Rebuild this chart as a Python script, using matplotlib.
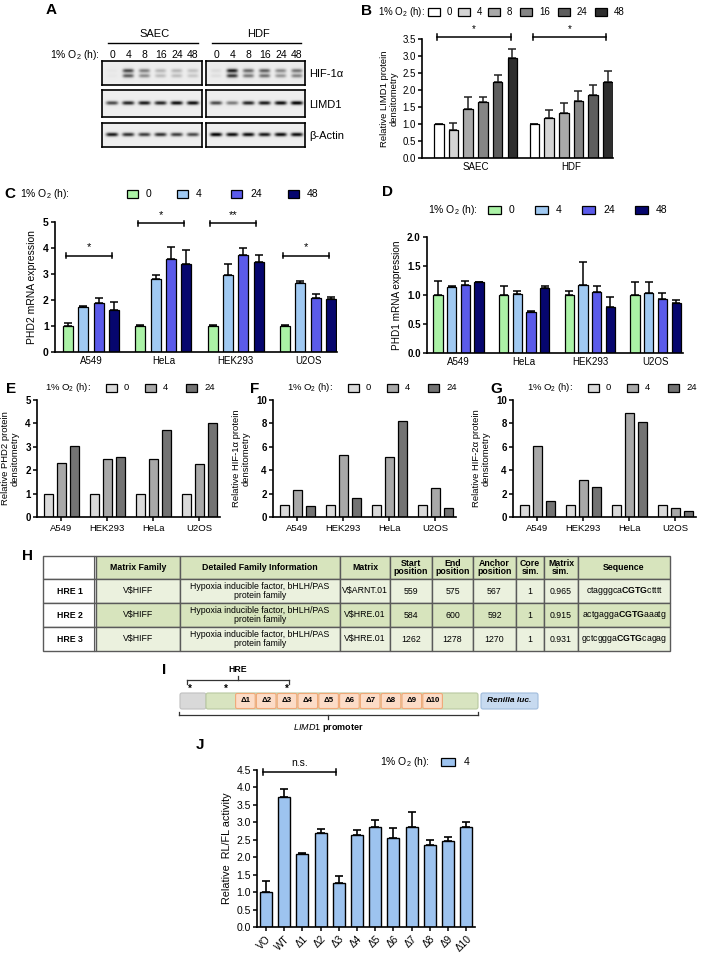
import numpy as np
import matplotlib
matplotlib.use('Agg')
import matplotlib.pyplot as plt
from matplotlib.patches import Rectangle, FancyBboxPatch

# ---------------- data ----------------
O2_TITLE = '1% O$_2$ (h):'

# Panel A (band intensities, 0..1)
a_lanes = ['0', '4', '8', '16', '24', '48']
a_cells = ['SAEC', 'HDF']
a_proteins = ['HIF-1α', 'LIMD1', 'β-Actin']
a_hif_saec = [0.03, 0.75, 0.50, 0.25, 0.25, 0.20]
a_hif_hdf = [0.08, 0.95, 0.60, 0.65, 0.45, 0.55]
a_limd1_saec = [0.65, 0.80, 0.85, 0.80, 0.90, 0.90]
a_limd1_hdf = [0.65, 0.45, 0.80, 0.85, 0.90, 0.95]
a_actin_saec = [0.85, 0.75, 0.70, 0.75, 0.70, 0.65]
a_actin_hdf = [0.95, 0.90, 0.90, 0.85, 0.90, 0.90]

# Panel B
b_groups = ['SAEC', 'HDF']
b_times = ['0', '4', '8', '16', '24', '48']
b_saec = [1.0, 0.82, 1.45, 1.65, 2.23, 2.93]
b_saec_err = [0.0, 0.20, 0.33, 0.15, 0.20, 0.28]
b_hdf = [1.0, 1.17, 1.32, 1.69, 1.85, 2.25]
b_hdf_err = [0.0, 0.23, 0.30, 0.27, 0.29, 0.30]
b_sig = ['*', '*']
b_colors = ['#ffffff', '#d4d4d4', '#a9a9a9', '#858585', '#5e5e5e', '#2e2e2e']

# Panels C / D
cd_times = ['0', '4', '24', '48']
cd_cells = ['A549', 'HeLa', 'HEK293', 'U2OS']
c_a549 = [1.0, 1.72, 1.90, 1.63]
c_a549_err = [0.10, 0.05, 0.18, 0.30]
c_hela = [1.0, 2.80, 3.57, 3.37]
c_hela_err = [0.05, 0.17, 0.48, 0.57]
c_hek = [1.0, 2.97, 3.75, 3.48]
c_hek_err = [0.02, 0.43, 0.25, 0.27]
c_u2os = [1.0, 2.67, 2.09, 2.04]
c_u2os_err = [0.02, 0.08, 0.13, 0.06]
c_sig = ['*', '*', '**', '*']
c_sig_level = [3.7, 4.95, 4.95, 3.7]
d_a549 = [1.0, 1.14, 1.17, 1.22]
d_a549_err = [0.25, 0.01, 0.08, 0.01]
d_hela = [1.0, 1.02, 0.70, 1.12]
d_hela_err = [0.15, 0.05, 0.03, 0.04]
d_hek = [1.0, 1.17, 1.05, 0.80]
d_hek_err = [0.07, 0.40, 0.10, 0.16]
d_u2os = [1.0, 1.04, 0.93, 0.87]
d_u2os_err = [0.22, 0.19, 0.10, 0.05]
cd_colors = ['#abf2a6', '#a0c9f2', '#5b5bea', '#06066e']

# Panels E / F / G
efg_times = ['0', '4', '24']
efg_cells = ['A549', 'HEK293', 'HeLa', 'U2OS']
e_t0 = [1.0, 1.0, 1.0, 1.0]
e_t4 = [2.30, 2.50, 2.50, 2.25]
e_t24 = [3.03, 2.57, 3.70, 4.02]
f_t0 = [1.0, 1.0, 1.0, 1.0]
f_t4 = [2.35, 5.30, 5.10, 2.50]
f_t24 = [0.90, 1.65, 8.20, 0.80]
g_t0 = [1.0, 1.0, 1.0, 1.0]
g_t4 = [6.10, 3.15, 8.90, 0.75]
g_t24 = [1.35, 2.55, 8.10, 0.50]
efg_colors = ['#dadada', '#a8a8a8', '#737373']

# Panel H
h_header = ['', 'Matrix Family', 'Detailed Family Information', 'Matrix', 'Start\nposition',
            'End\nposition', 'Anchor\nposition', 'Core\nsim.', 'Matrix\nsim.', 'Sequence']
h_rows = ['HRE 1', 'HRE 2', 'HRE 3']
h_family = ['V$HIFF', 'V$HIFF', 'V$HIFF']
h_info = ['Hypoxia inducible factor, bHLH/PAS\nprotein family'] * 3
h_matrix = ['V$ARNT.01', 'V$HRE.01', 'V$HRE.01']
h_start = [559, 584, 1262]
h_end = [575, 600, 1278]
h_anchor = [567, 592, 1270]
h_core = [1, 1, 1]
h_msim = [0.965, 0.915, 0.931]
h_seq_pre = ['ctagggca', 'actgagga', 'gctcggga']
h_seq_core = ['CGTG', 'CGTG', 'CGTG']
h_seq_post = ['ctttt', 'aaatg', 'cagag']

# Panel J
j_constructs = ['VO', 'WT', 'Δ1', 'Δ2', 'Δ3', 'Δ4', 'Δ5', 'Δ6', 'Δ7', 'Δ8', 'Δ9', 'Δ10']
j_vals = [1.00, 3.73, 2.08, 2.70, 1.26, 2.65, 2.88, 2.54, 2.86, 2.35, 2.47, 2.87]
j_err = [0.33, 0.23, 0.05, 0.10, 0.20, 0.12, 0.20, 0.30, 0.45, 0.15, 0.10, 0.14]
j_time = ['4']
j_color = '#9dc3ef'

# ---------------- setup ----------------
W, H = 709, 956
plt.rcParams['font.family'] = ['Liberation Sans', 'DejaVu Sans']
plt.rcParams['mathtext.fontset'] = 'custom'
plt.rcParams['mathtext.rm'] = 'Liberation Sans'
plt.rcParams['mathtext.it'] = 'Liberation Sans:italic'
plt.rcParams['mathtext.bf'] = 'Liberation Sans:bold'
NARROW = ['Liberation Sans Narrow', 'Liberation Sans', 'DejaVu Sans']

fig = plt.figure(figsize=(W / 100, H / 100), dpi=100)
ov = fig.add_axes([0, 0, 1, 1])
ov.set_xlim(0, W)
ov.set_ylim(H, 0)
ov.axis('off')


def px_axes(l, t, r, b):
    ax = fig.add_axes([l / W, 1 - b / H, (r - l) / W, (b - t) / H])
    ax.set_facecolor('none')
    return ax


def panel_label(x, y, s):
    ov.text(x, y, s, fontsize=11, fontweight='bold', ha='left', va='center')


def legend(tx, y, labels, colors, box_xs, bw=12, bh=8, fs=7, gap=8):
    ov.text(tx, y, O2_TITLE, fontsize=fs, ha='left', va='center')
    for lab, c, bx in zip(labels, colors, box_xs):
        ov.add_patch(Rectangle((bx, y - bh / 2), bw, bh, facecolor=c, edgecolor='black', lw=0.9))
        ov.text(bx + bw + gap, y, lab, fontsize=fs, ha='left', va='center')


def style(ax, ymax, yticks, fmt, bold=False, fs=7):
    for s in ['top', 'right']:
        ax.spines[s].set_visible(False)
    for s in ['left', 'bottom']:
        ax.spines[s].set_linewidth(1.2)
    ax.set_ylim(0, ymax)
    ax.set_yticks(yticks, labels=[fmt.format(v) for v in yticks],
                  fontweight='bold' if bold else 'normal')
    ax.tick_params(axis='y', length=3, width=1.1, labelsize=fs, pad=1.5)


def bracket(ax, x0, x1, y, text, ty, cap, fs=8):
    kw = dict(color='black', lw=1.1, clip_on=False)
    ax.plot([x0, x1], [y, y], **kw)
    ax.plot([x0, x0], [y - cap, y + cap], **kw)
    ax.plot([x1, x1], [y - cap, y + cap], **kw)
    ax.text((x0 + x1) / 2, ty, text, ha='center', va='center', fontsize=fs, clip_on=False)


def grouped(ax, groups, errs, colors, gap, width, ecolor='black'):
    for g, vals in enumerate(groups):
        xs = g * gap + np.arange(len(vals))
        if errs is not None:
            e = np.asarray(errs[g])
            ax.errorbar(xs, vals, yerr=[np.zeros_like(e), e], fmt='none', ecolor=ecolor,
                        elinewidth=1.1, capsize=2.8, capthick=1.1, zorder=1)
        ax.bar(xs, vals, width=width, color=colors, edgecolor='black', linewidth=0.9, zorder=2)


# ---------------- Panel A ----------------
panel_label(46, 10, 'A')
ov.text(100, 55, O2_TITLE, fontsize=7.5, ha='right', va='center')
blot_boxes = [(102, 202), (206, 305)]
rows_y = [(61, 85), (90, 117), (123, 147)]
blot_data = [[a_hif_saec, a_hif_hdf], [a_limd1_saec, a_limd1_hdf], [a_actin_saec, a_actin_hdf]]
for ci, (cell, (l, r)) in enumerate(zip(a_cells, blot_boxes)):
    ov.text((l + r) / 2 + 3, 34, cell, fontsize=8, ha='center', va='center')
    ov.plot([l + 6, r - 4], [43, 43], color='black', lw=1.0)
    for li, lab in enumerate(a_lanes):
        ov.text(l + 10 + li * 16.2, 55, lab, fontsize=7.5, ha='center', va='center')
    for ri, (t, b) in enumerate(rows_y):
        ax = px_axes(l, t, r, b)
        w, h = r - l, b - t
        X, Y = np.meshgrid(np.linspace(0, w, w * 4), np.linspace(0, h, h * 4))
        img = np.full(X.shape, 0.93)
        for li, v in enumerate(blot_data[ri][ci]):
            cx = 10 + li * 16.2
            if ri == 0:
                img -= v * 0.75 * np.exp(-((X - cx) / 5.5) ** 4 - ((Y - h * 0.40) / 1.8) ** 2)
                img -= v * 0.65 * np.exp(-((X - cx) / 5.5) ** 4 - ((Y - h * 0.62) / 1.8) ** 2)
                img -= v * 0.15 * np.exp(-((X - cx) / 6.0) ** 4 - ((Y - h * 0.5) / 5) ** 2)
            else:
                img -= v * np.exp(-((X - cx) / 6.0) ** 4 - ((Y - h * 0.48) / 1.9) ** 2)
        img = np.clip(img, 0, 1)
        ax.imshow(img, cmap='gray', vmin=0, vmax=1, extent=[0, w, h, 0], aspect='auto',
                  interpolation='bilinear')
        ax.set_xticks([])
        ax.set_yticks([])
        for s in ax.spines.values():
            s.set_linewidth(1.2)
for prot, (t, b) in zip(a_proteins, rows_y):
    ov.text(309, (t + b) / 2 + 1, prot, fontsize=8, ha='left', va='center')

# ---------------- Panel B ----------------
panel_label(361, 11, 'B')
legend(378, 12, b_times, b_colors, [428, 458, 488, 520, 558, 595], bw=12, bh=8, fs=7, gap=7)
axB = px_axes(422, 39, 613, 158)
B_GAP = 6.5
grouped(axB, [b_saec, b_hdf], [b_saec_err, b_hdf_err], b_colors, B_GAP, 0.65, ecolor='#222222')
style(axB, 3.5, np.arange(0, 3.51, 0.5), '{:.1f}', fs=7)
axB.set_xlim(-1.14, 11.85)
axB.set_xticks([2.5, 2.5 + B_GAP], b_groups, fontsize=7)
axB.tick_params(axis='x', length=0, pad=3)
axB.set_ylabel('Relative LIMD1 protein\ndensitometry', fontsize=6.8, labelpad=3, linespacing=1.1)
for g, s in enumerate(b_sig):
    bracket(axB, g * B_GAP - 0.1, g * B_GAP + 5 - 0.1, 3.56, s, 3.8, 0.09, fs=7)

# ---------------- Panel C ----------------
panel_label(4, 194, 'C')
legend(20, 194, cd_times, cd_colors, [127, 177, 231, 288], bw=11, bh=8, fs=7.5, gap=8)
axC = px_axes(55, 222, 337, 352)
CD_GAP = 4.72
grouped(axC, [c_a549, c_hela, c_hek, c_u2os], [c_a549_err, c_hela_err, c_hek_err, c_u2os_err],
        cd_colors, CD_GAP, 0.65)
style(axC, 5, np.arange(0, 6), '{:d}', bold=True, fs=7.5)
axC.set_xlim(-0.85, 17.55)
axC.set_xticks(np.arange(4) * CD_GAP + 1.5, cd_cells, fontsize=7)
axC.tick_params(axis='x', length=0, pad=3)
axC.set_ylabel('PHD2 mRNA expression', fontsize=7.5, labelpad=4)
for g, (s, lv) in enumerate(zip(c_sig, c_sig_level)):
    bracket(axC, g * CD_GAP - 0.15, g * CD_GAP + 2.85, lv, s, lv + 0.32, 0.1, fs=8)

# ---------------- Panel D ----------------
panel_label(382, 192, 'D')
legend(428, 210, cd_times, cd_colors, [488, 535, 582, 635], bw=13, bh=8, fs=7.5, gap=8)
axD = px_axes(427, 237, 683, 353)
D_GAP = 4.8
grouped(axD, [d_a549, d_hela, d_hek, d_u2os], [d_a549_err, d_hela_err, d_hek_err, d_u2os_err],
        cd_colors, D_GAP, 0.68)
style(axD, 2.0, np.arange(0, 2.01, 0.5), '{:.1f}', bold=True, fs=7)
axD.set_xlim(-0.8, 17.9)
axD.set_xticks(np.arange(4) * D_GAP + 1.5, cd_cells, fontsize=7)
axD.tick_params(axis='x', length=0, pad=3)
axD.set_ylabel('PHD1 mRNA expression', fontsize=7.2, labelpad=4)

# ---------------- Panels E/F/G ----------------
EFG_GAP = 3.54
efg_specs = [
    ('E', 6, 45, (37, 220), [e_t0, e_t4, e_t24], 5, np.arange(0, 6), 'Relative PHD2 protein\ndensitometry'),
    ('F', 250, 287, (273, 456), [f_t0, f_t4, f_t24], 10, np.arange(0, 11, 2), 'Relative HIF-1α protein\ndensitometry'),
    ('G', 490, 527, (513, 696), [g_t0, g_t4, g_t24], 10, np.arange(0, 11, 2), 'Relative HIF-2α protein\ndensitometry'),
]
for lab, lx, tx, (l, r), series, ymax, yt, ylab in efg_specs:
    panel_label(lx, 389, lab)
    legend(tx, 388, efg_times, efg_colors, [tx + 61, tx + 100, tx + 141], bw=11, bh=8, fs=6.8, gap=7)
    ax = px_axes(l, 400, r, 517)
    groups = [[series[k][g] for k in range(3)] for g in range(4)]
    grouped(ax, groups, None, efg_colors, EFG_GAP, 0.7)
    style(ax, ymax, yt, '{:d}', bold=True, fs=7)
    ax.set_xlim(-0.85, 13.2)
    ax.set_xticks(np.arange(4) * EFG_GAP + 1, efg_cells, fontsize=6.8)
    ax.tick_params(axis='x', length=3, width=1.1, pad=2)
    ax.set_ylabel(ylab, fontsize=6.8, labelpad=4, linespacing=1.1)

# ---------------- Panel H (table) ----------------
panel_label(22, 556, 'H')
col_edges = [43, 96, 180, 340, 390, 432, 473, 516, 544, 578, 670]
row_edges = [556, 579, 603, 627, 651]
HEAD_C = '#d7e4bd'
ROW_C = ['#ebf1de', '#d7e4bd', '#ebf1de']
for ci in range(len(h_header)):
    x0, x1 = col_edges[ci], col_edges[ci + 1]
    for ri in range(4):
        y0, y1 = row_edges[ri], row_edges[ri + 1]
        if ci == 0:
            fc = 'white'
        elif ri == 0:
            fc = HEAD_C
        else:
            fc = ROW_C[ri - 1]
        ov.add_patch(Rectangle((x0, y0), x1 - x0, y1 - y0, facecolor=fc, edgecolor='#5a5a5a', lw=1.0))
for ci, txt in enumerate(h_header):
    xc = (col_edges[ci] + col_edges[ci + 1]) / 2
    ov.text(xc, (row_edges[0] + row_edges[1]) / 2, txt, fontsize=6.3, fontweight='bold',
            ha='center', va='center', linespacing=1.0, family=NARROW)
ov.plot([93.5, 93.5], [row_edges[0], row_edges[-1]], color='#5a5a5a', lw=0.8)
for ri in range(3):
    yc = (row_edges[ri + 1] + row_edges[ri + 2]) / 2
    cells = [h_family[ri], h_info[ri], h_matrix[ri], str(h_start[ri]), str(h_end[ri]),
             str(h_anchor[ri]), str(h_core[ri]), '{:.3f}'.format(h_msim[ri])]
    ov.text((col_edges[0] + col_edges[1]) / 2, yc, h_rows[ri], fontsize=6.3, fontweight='bold',
            ha='center', va='center', family=NARROW)
    for k, txt in enumerate(cells):
        ci = k + 1
        xc = (col_edges[ci] + col_edges[ci + 1]) / 2
        ov.text(xc, yc, txt, fontsize=6.3, ha='center', va='center', linespacing=1.0,
                family=NARROW, parse_math=False)
    seq = h_seq_pre[ri] + r'$\mathbf{' + h_seq_core[ri] + '}$' + h_seq_post[ri]
    ov.text((col_edges[9] + col_edges[10]) / 2, yc, seq, fontsize=6.3, ha='center', va='center',
            family=NARROW)

# ---------------- Panel I (schematic) ----------------
panel_label(162, 670, 'I')
ov.text(238, 670, 'HRE', fontsize=6.3, fontweight='bold', ha='center', va='center')
ov.plot([187, 289], [680, 680], color='#333333', lw=0.9)
ov.plot([187, 187], [680, 684], color='#333333', lw=0.9)
ov.plot([289, 289], [680, 684], color='#333333', lw=0.9)
ov.plot([238, 238], [676, 680], color='#333333', lw=0.9)
for sx in [190, 226, 287]:
    ov.text(sx, 689, '*', fontsize=7, fontweight='bold', ha='center', va='center')
ov.add_patch(FancyBboxPatch((180, 693), 26, 16, boxstyle='round,pad=0,rounding_size=2',
                            facecolor='#d9d9d9', edgecolor='#c0c0c0', lw=0.8))
ov.add_patch(FancyBboxPatch((206, 693), 272, 16, boxstyle='round,pad=0,rounding_size=2',
                            facecolor='#d8e4c0', edgecolor='#b8c9a0', lw=0.8))
dw = (443 - 235) / 10
for k, lab in enumerate(j_constructs[2:]):
    x0 = 235 + k * dw
    ov.add_patch(FancyBboxPatch((x0 + 0.6, 693.5), dw - 1.2, 15, boxstyle='round,pad=0,rounding_size=1.5',
                                facecolor='#fcdcc7', edgecolor='#f0a878', lw=0.8))
    ov.text(x0 + dw / 2, 701, lab, fontsize=5.6, fontweight='bold', ha='center', va='center')
ov.add_patch(FancyBboxPatch((481, 693), 57, 16, boxstyle='round,pad=0,rounding_size=2',
                            facecolor='#c7daf0', edgecolor='#a0bcdc', lw=0.8))
ov.text(509.5, 701, 'Renilla luc.', fontsize=6, fontweight='bold', style='italic', ha='center', va='center')
ov.plot([179, 478], [715, 715], color='#333333', lw=0.9)
ov.plot([179, 179], [712, 715], color='#333333', lw=0.9)
ov.plot([478, 478], [712, 715], color='#333333', lw=0.9)
ov.plot([328, 328], [715, 719], color='#333333', lw=0.9)
ov.text(328, 728, r'$\mathbf{\mathit{LIMD1}}$ promoter', fontsize=6.5, fontweight='bold',
        ha='center', va='center')

# ---------------- Panel J ----------------
panel_label(196, 745, 'J')
legend(380, 762, j_time, [j_color], [441], bw=14, bh=8, fs=7.5, gap=9)
axJ = px_axes(257, 770, 475, 927)
xj = np.arange(len(j_vals))
axJ.errorbar(xj, j_vals, yerr=[np.zeros(len(j_err)), j_err], fmt='none', ecolor='black',
             elinewidth=1.2, capsize=3, capthick=1.2, zorder=1)
axJ.bar(xj, j_vals, width=0.66, color=j_color, edgecolor='black', linewidth=1.0, zorder=2)
style(axJ, 4.5, np.arange(0, 4.51, 0.5), '{:.1f}', fs=7.5)
axJ.set_xlim(-0.5, 11.48)
axJ.set_xticks(xj, j_constructs, rotation=45, ha='right', rotation_mode='anchor', fontsize=7.3)
axJ.tick_params(axis='x', length=3, width=1.1, pad=2)
axJ.set_ylabel('Relative  RL/FL activity', fontsize=7.8, labelpad=3)
bracket(axJ, -0.15, 3.85, 4.45, 'n.s.', 4.7, 0.08, fs=7.5)

fig.savefig('out.png', dpi=100)
